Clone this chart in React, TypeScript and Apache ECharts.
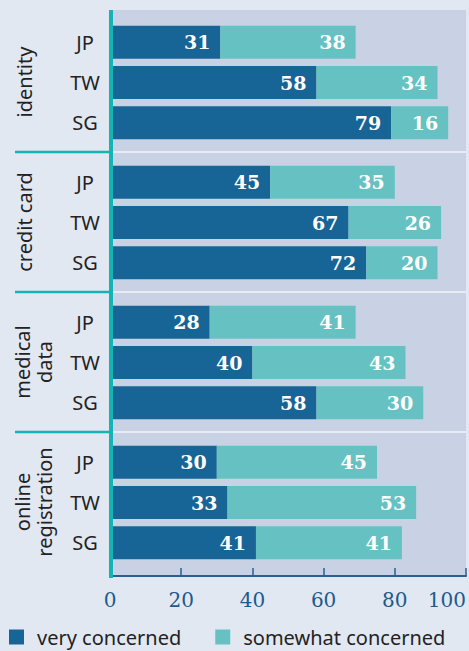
import React, { useEffect, useRef } from "react";
import * as echarts from "echarts";

const groups = ["identity", "credit card", "medical\ndata", "online\nregistration"];
const countries = ["JP", "TW", "SG"];
const seriesNames = ["very concerned", "somewhat concerned"];
const veryConcerned = [
  [31, 58, 79],
  [45, 67, 72],
  [28, 40, 58],
  [30, 33, 41],
];
const somewhatConcerned = [
  [38, 34, 16],
  [35, 26, 20],
  [41, 43, 30],
  [45, 53, 41],
];
const xTicks = { min: 0, max: 100, interval: 20 };

const DARK = "#176497";
const LIGHT = "#66c2c2";
const TEAL = "#14b4b4";
const PAGE_BG = "#e2e8f2";
const PLOT_BG = "#c8d2e4";
const AXIS = "#2a5f8f";

export default function App() {
  const ref = useRef<HTMLDivElement>(null);
  useEffect(() => {
    if (!ref.current) return;
    const chart = echarts.init(ref.current, null, { renderer: "svg" });
    const gridTops = [22, 162, 302, 442];
    const gridH = 121;
    const plotLeft = 110;
    const plotRight = 466;
    const sepYs = [152, 292, 432];
    const labelCenters = [
      { x: 24, y: 82 },
      { x: 24, y: 222 },
      { x: 33, y: 362 },
      { x: 33, y: 502 },
    ];

    const series: any[] = [];
    groups.forEach((_, k) => {
      [veryConcerned, somewhatConcerned].forEach((arr, s) => {
        series.push({
          type: "bar",
          name: seriesNames[s],
          xAxisIndex: k,
          yAxisIndex: k,
          stack: "g" + k,
          barWidth: 33,
          data: arr[k],
          itemStyle: { color: s === 0 ? DARK : LIGHT },
          label: {
            show: true,
            position: "insideRight",
            distance: 10,
            color: "#ffffff",
            fontFamily: "DejaVu Serif",
            fontWeight: "bold",
            fontSize: 19,
          },
        });
      });
    });

    const graphics: any[] = [
      {
        type: "rect",
        z: -10,
        shape: { x: plotLeft, y: 10, width: plotRight - plotLeft, height: 566 },
        style: { fill: PLOT_BG },
        silent: true,
      },
      ...sepYs.map((y) => ({
        type: "line",
        z: -5,
        shape: { x1: plotLeft, y1: y, x2: plotRight, y2: y },
        style: { stroke: "#e6ebf4", lineWidth: 2 },
        silent: true,
      })),
      ...sepYs.map((y) => ({
        type: "line",
        z: 10,
        shape: { x1: 15, y1: y, x2: plotLeft, y2: y },
        style: { stroke: TEAL, lineWidth: 2.5 },
        silent: true,
      })),
      {
        type: "rect",
        z: 20,
        shape: { x: 109, y: 10, width: 4, height: 568 },
        style: { fill: TEAL },
        silent: true,
      },
      ...groups.map((g, k) => ({
        type: "text",
        z: 10,
        x: labelCenters[k].x,
        y: labelCenters[k].y,
        rotation: Math.PI / 2,
        style: {
          text: g,
          fill: "#222222",
          font: "20px 'Noto Sans'",
          lineHeight: 22,
          align: "center",
          verticalAlign: "middle",
        },
        silent: true,
      })),
    ];

    chart.setOption({
      animation: false,
      backgroundColor: PAGE_BG,
      legend: {
        left: 4,
        top: 622,
        itemWidth: 15,
        itemHeight: 15,
        itemGap: 34,
        icon: "rect",
        data: [
          { name: seriesNames[0], itemStyle: { color: DARK } },
          { name: seriesNames[1], itemStyle: { color: LIGHT } },
        ],
        textStyle: {
          fontFamily: "Noto Sans",
          fontSize: 20,
          color: "#222222",
          padding: [0, 0, 0, 8],
        },
      },
      grid: groups.map((_, k) => ({
        left: plotLeft,
        right: 469 - plotRight,
        top: gridTops[k],
        height: gridH,
        containLabel: false,
        outerBoundsMode: "none",
      })),
      xAxis: groups.map((_, k) => ({
        type: "value",
        gridIndex: k,
        ...xTicks,
        show: k === groups.length - 1,
        offset: 13,
        axisLine: { show: true, lineStyle: { color: AXIS, width: 2 } },
        axisTick: { show: true, inside: true, length: 8, lineStyle: { color: AXIS, width: 1.5 } },
        axisLabel: {
          margin: 14,
          fontFamily: "DejaVu Serif",
          fontSize: 20,
          color: "#1d5a8c",
          alignMaxLabel: "right",
        },
        splitLine: { show: false },
      })),
      yAxis: groups.map((_, k) => ({
        type: "category",
        gridIndex: k,
        data: countries,
        inverse: true,
        axisLine: { show: false },
        axisTick: { show: false },
        axisLabel: {
          align: "center",
          margin: 25,
          fontFamily: "Noto Sans",
          fontSize: 20,
          color: "#222222",
        },
      })),
      series,
      graphic: graphics,
    });
    return () => chart.dispose();
  }, []);
  return (
    <div
      ref={ref}
      style={{ position: "fixed", left: 0, top: 0, width: 469, height: 651 }}
    />
  );
}
